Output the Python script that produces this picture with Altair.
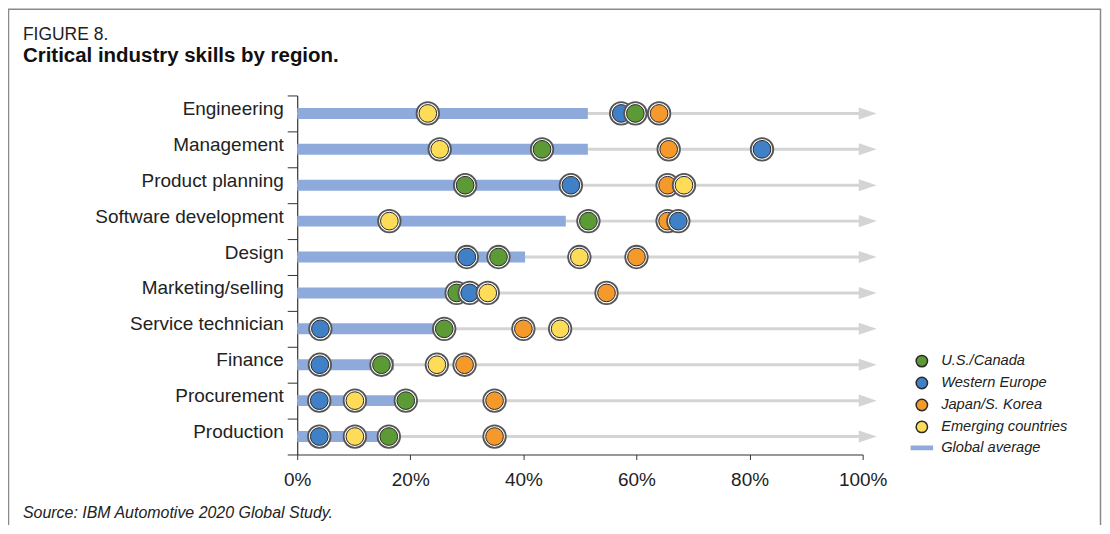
import altair as alt
import pandas as pd

# ---------------- data ----------------
skills = ["Engineering", "Management", "Product planning", "Software development",
          "Design", "Marketing/selling", "Service technician", "Finance",
          "Procurement", "Production"]
us_canada      = [59.8, 43.3, 29.7, 51.5, 35.6, 28.2, 26.0, 14.9, 19.2, 16.2]
western_europe = [57.3, 82.2, 48.4, 67.4, 30.0, 30.5, 4.1, 4.0, 3.9, 3.9]
japan_korea    = [64.0, 65.7, 65.5, 65.5, 60.0, 54.7, 40.0, 29.6, 34.9, 34.9]
emerging       = [23.1, 25.2, 68.4, 16.3, 49.9, 33.7, 46.5, 24.7, 10.2, 10.2]
global_avg     = [51.4, 51.4, 50.0, 47.5, 40.3, 27.5, 25.0, 17.1, 17.4, 14.5]

series_names = ["U.S./Canada", "Western Europe", "Japan/S. Korea",
                "Emerging countries", "Global average"]
series_colors = ["#5b9a34", "#3f80c6", "#f6992b", "#ffdc57", "#8eaadb"]
x_ticks = [0, 20, 40, 60, 80, 100]
arrow_end = 100.9

# ---------------- tables ----------------
region_values = [us_canada, western_europe, japan_korea, emerging]
rows = []
for name, vals in zip(series_names[:4], region_values):
    for s, v in zip(skills, vals):
        rows.append({"skill": s, "series": name, "value": v})
dots = pd.DataFrame(rows)
dots["rank"] = dots.groupby("skill")["value"].rank(method="first").astype(int)

avg_df = pd.DataFrame({"skill": skills, "value": global_avg})

FONT = "Liberation Sans"
BAR_PATH = "M-1.85,-0.3L1.85,-0.3L1.85,0.3L-1.85,0.3Z"
ARROW_PATH = "M-1,-0.67L1,0L-1,0.67Z"

y_enc = alt.Y("skill:N", sort=skills,
              scale=alt.Scale(type="band", domain=skills, paddingInner=0, paddingOuter=0),
              axis=alt.Axis(title=None, tickBand="extent", tickSize=10, labelPadding=4,
                            labelFont=FONT, labelFontSize=19, labelColor="#222",
                            labelBaseline="alphabetic", labelOffset=1,
                            domainColor="#333", tickColor="#333", domainWidth=1.2,
                            labelLimit=400))
x_scale = alt.Scale(domain=[0, 100], nice=False)
x_axis = alt.Axis(title=None, values=x_ticks, labelExpr="datum.value + '%'", grid=False,
                  tickSize=5, labelPadding=11, labelFont=FONT, labelFontSize=19,
                  labelFlush=False, labelColor="#222", domainColor="#333",
                  tickColor="#333", domainWidth=1.2)

legend = alt.Legend(title=None, orient="none", legendX=619, legendY=259,
                    labelFont=FONT, labelFontSize=14.7, labelFontStyle="italic",
                    labelColor="#222", symbolSize=130, symbolStrokeWidth=1.5,
                    rowPadding=3, labelOffset=12, padding=0)

fill_enc = alt.Fill("series:N", scale=alt.Scale(domain=series_names, range=series_colors),
                    legend=legend)
shape_enc = alt.Shape("series:N",
                      scale=alt.Scale(domain=series_names, range=["circle"] * 4 + [BAR_PATH]),
                      legend=legend)
stroke_enc = alt.Stroke("series:N",
                        scale=alt.Scale(domain=series_names,
                                        range=["#2a2a2a"] * 4 + ["#8eaadb"]),
                        legend=legend)

# gray row line + arrowhead
lines = alt.Chart(avg_df).mark_rule(color="#d4d4d4", strokeWidth=3).encode(
    y=y_enc, x=alt.X(datum=0, type="quantitative", scale=x_scale, axis=x_axis),
    x2=alt.datum(99.5))
heads = alt.Chart(avg_df).mark_point(shape=ARROW_PATH, size=324, filled=True,
                                     color="#d4d4d4", opacity=1).encode(
    y=y_enc, x=alt.datum(arrow_end))

bars = alt.Chart(avg_df).mark_bar(size=11, color="#8eaadb").encode(
    y=y_enc, x=alt.X("value:Q", scale=x_scale, axis=x_axis))

layers = [lines, heads, bars]
for r in range(1, 5):
    sub = alt.Chart(dots).transform_filter(alt.datum.rank == r)
    ring = sub.mark_point(shape="circle", size=510, filled=True, fill="white",
                          stroke="#555", strokeWidth=1.8, opacity=1).encode(
        y=y_enc, x=alt.X("value:Q", scale=x_scale, axis=x_axis))
    dot = sub.mark_point(size=314, filled=True, strokeWidth=1, opacity=1).encode(
        y=y_enc, x=alt.X("value:Q", scale=x_scale, axis=x_axis),
        fill=fill_enc, shape=shape_enc, stroke=stroke_enc)
    layers += [ring, dot]

one = alt.Data(values=[{"a": 1}])
frame = alt.Chart(one).mark_rect(fill=None, stroke="#8a8a8a", strokeWidth=1.5).encode(
    x=alt.value(-289.5), x2=alt.value(805.5), y=alt.value(-86.5), y2=alt.value(600))
fig_label = alt.Chart(one).mark_text(text="FIGURE 8.", align="left", baseline="alphabetic",
                                     font=FONT, fontSize=17.5, color="#222").encode(
    x=alt.value(-275), y=alt.value(-56))
title = alt.Chart(one).mark_text(text="Critical industry skills by region.", align="left",
                                 baseline="alphabetic", font=FONT,
                                 fontWeight="bold", fontSize=20.5, color="#111").encode(
    x=alt.value(-275), y=alt.value(-34))
source = alt.Chart(one).mark_text(text="Source: IBM Automotive 2020 Global Study.",
                                  align="left", baseline="alphabetic", font=FONT,
                                  fontSize=16, fontStyle="italic", color="#222").encode(
    x=alt.value(-275), y=alt.value(424))

chart = alt.layer(*layers, frame, fig_label, title, source).properties(
    width=567, height=360,
    autosize=alt.AutoSizeParams(type="none"),
    padding={"left": 290, "top": 87, "right": 240, "bottom": 70},
).configure_view(stroke=None)

chart.save("out.html", embed_options={"renderer": "svg", "actions": False})
